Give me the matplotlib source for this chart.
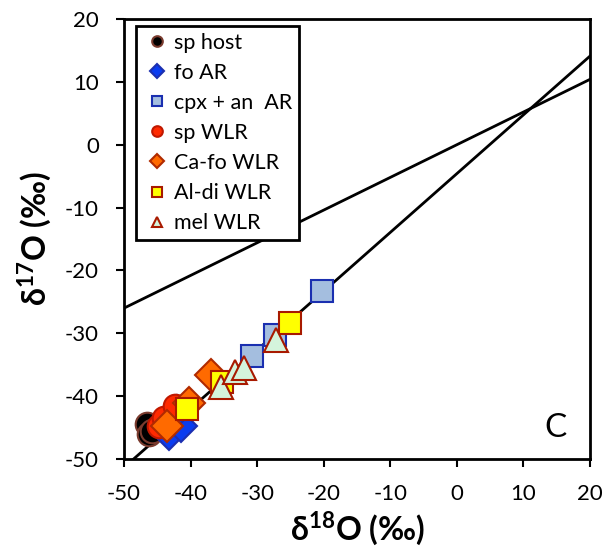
import matplotlib
matplotlib.use("Agg")
import matplotlib.pyplot as plt
import numpy as np

plt.rcParams['font.family'] = ['Lato', 'DejaVu Sans']
plt.rcParams['mathtext.fontset'] = 'custom'
plt.rcParams['mathtext.rm'] = 'Lato'
plt.rcParams['mathtext.bf'] = 'Lato:bold'
plt.rcParams['axes.unicode_minus'] = False

# data (d18O, d17O)
sp_host_x = [-46.5, -46.3, -45.8]
sp_host_y = [-44.5, -46.0, -45.5]
fo_ar_x = [-43.3, -41.5, -42.0]
fo_ar_y = [-46.0, -44.8, -42.3]
cpx_ar_x = [-20.2, -27.3, -30.8]
cpx_ar_y = [-23.2, -30.2, -33.6]
sp_wlr_x = [-44.8, -44.0, -42.3]
sp_wlr_y = [-44.8, -43.4, -41.6]
cafo_x = [-43.5, -40.3, -37.0]
cafo_y = [-44.8, -41.1, -36.7]
aldi_x = [-40.5, -35.3, -25.1]
aldi_y = [-42.0, -37.8, -28.4]
mel_x = [-35.5, -33.3, -32.0, -27.1]
mel_y = [-38.6, -36.2, -35.6, -31.1]

tfl_slope, tfl_int = 0.52, 0.0
ccam_slope, ccam_int = 0.935, -4.6

fig = plt.figure(figsize=(6.07, 5.59), dpi=100)
ax = fig.add_axes([0.2043, 0.1789, 0.7677, 0.7871])

xl = np.array([-50, 20])
ax.plot(xl, tfl_slope*xl + tfl_int, color='black', lw=2, zorder=1)
ax.plot(xl, ccam_slope*xl + ccam_int, color='black', lw=2, zorder=1)

ax.plot(sp_host_x, sp_host_y, ls='none', marker='o', ms=17, mfc='black', mec='#7a3b2e', mew=1.5, label='sp host')
ax.plot(fo_ar_x, fo_ar_y, ls='none', marker='D', ms=16, mfc='#0a3cf0', mec='#1c2fb0', mew=1.5, label='fo AR')
ax.plot(cpx_ar_x, cpx_ar_y, ls='none', marker='s', ms=16, mfc='#a4bedf', mec='#1a2fb0', mew=1.5, label='cpx + an  AR')
ax.plot(sp_wlr_x, sp_wlr_y, ls='none', marker='o', ms=17, mfc='#ff2a00', mec='#c01800', mew=1.5, label='sp WLR')
ax.plot(cafo_x, cafo_y, ls='none', marker='D', ms=16, mfc='#ff6a00', mec='#b02a00', mew=1.5, label='Ca-fo WLR')
ax.plot(aldi_x, aldi_y, ls='none', marker='s', ms=16, mfc='#ffff00', mec='#a81a00', mew=1.5, label='Al-di WLR')
ax.plot(mel_x, mel_y, ls='none', marker='^', ms=17, mfc='#d4f4dc', mec='#a81a00', mew=1.5, label='mel WLR')

ax.set_xlim(-50, 20)
ax.set_ylim(-50, 20)
ax.set_xticks(range(-50, 21, 10))
ax.set_yticks(range(-50, 21, 10))
ax.tick_params(direction='out', length=6, width=1.5, labelsize=16, pad=12)
for s in ax.spines.values():
    s.set_linewidth(2)

ax.set_xlabel(r'δ$^{\mathbf{18}}$O (‰)', fontsize=23, fontweight='bold', labelpad=4)
ax.set_ylabel(r'δ$^{\mathbf{17}}$O (‰)', fontsize=23, fontweight='bold', labelpad=8)

ax.text(0.925, 0.07, 'C', transform=ax.transAxes, fontsize=24, ha='center', va='center')

leg = ax.legend(loc='upper left', bbox_to_anchor=(0.026, 0.984), fontsize=15.5, markerscale=0.45,
                fancybox=False, framealpha=1, edgecolor='black', handlelength=1.3, handletextpad=0.15,
                labelspacing=0.47, borderaxespad=0, borderpad=0.3)
leg.get_frame().set_linewidth(2)

fig.savefig('out.png', dpi=100)
